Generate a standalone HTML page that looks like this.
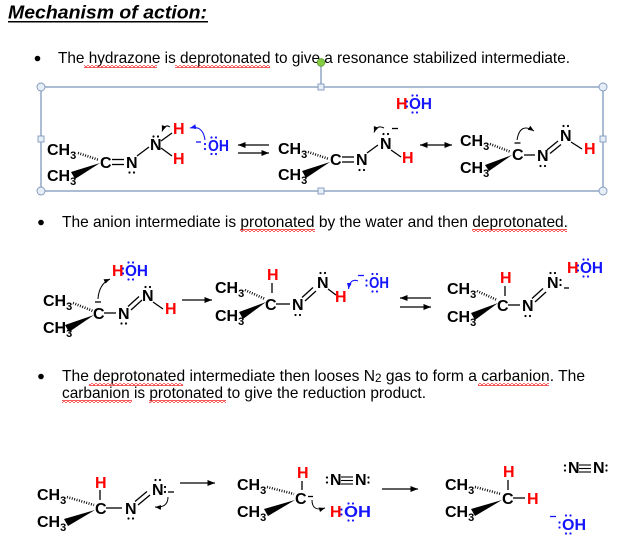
<!DOCTYPE html>
<html><head><meta charset="utf-8"><style>
html,body{margin:0;padding:0;background:#fff;}
svg{display:block;}
.t{font-family:"Liberation Sans",Arial,sans-serif;font-size:16px;fill:#000;}
.c{font-family:"Liberation Sans",Arial,sans-serif;font-size:16px;font-weight:bold;fill:#000;}
.r{fill:#f00;}
.b{fill:#1414ff;}
</style></head><body>
<svg width="622" height="543" viewBox="0 0 622 543" xmlns="http://www.w3.org/2000/svg">
<defs>
<pattern id="sq" x="0" y="0" width="4" height="3" patternUnits="userSpaceOnUse"><path d="M0,2.5 L2,0.5 L4,2.5" stroke="#e00" stroke-width="0.9" fill="none"/></pattern>
<marker id="ar" viewBox="0 0 10 8" refX="10" refY="4" markerWidth="8" markerHeight="6" markerUnits="userSpaceOnUse" orient="auto-start-reverse"><path d="M0,0 L10,4 L0,8 z" fill="#000"/></marker>
<marker id="ac" viewBox="0 0 10 8" refX="10" refY="4" markerWidth="6" markerHeight="5" markerUnits="userSpaceOnUse" orient="auto"><path d="M0,0 L10,4 L0,8 z" fill="#000"/></marker>
<marker id="acb" viewBox="0 0 10 8" refX="10" refY="4" markerWidth="6" markerHeight="5" markerUnits="userSpaceOnUse" orient="auto"><path d="M0,0 L10,4 L0,8 z" fill="#1414ff"/></marker>
</defs>

<!-- Title -->
<text x="8" y="18.5" font-family="Liberation Sans, Arial, sans-serif" font-weight="bold" font-style="italic" font-size="18" textLength="199" lengthAdjust="spacingAndGlyphs">Mechanism of action:</text>
<rect x="8" y="21" width="200" height="1.5" fill="#000"/>

<!-- Bullet 1 -->
<circle cx="37.5" cy="58.5" r="2.8" fill="#000"/>
<text class="t" x="58" y="63" textLength="512" lengthAdjust="spacingAndGlyphs">The hydrazone is deprotonated to give a resonance stabilized intermediate.</text>
<rect x="84" y="65" width="73" height="3" fill="url(#sq)"/>
<rect x="175" y="65" width="95" height="3" fill="url(#sq)"/>

<!-- Selection box -->
<rect x="41" y="87" width="562" height="104" fill="none" stroke="#5878a4" stroke-width="1"/>
<line x1="321" y1="66" x2="321" y2="84" stroke="#5878a4" stroke-width="1"/>
<circle cx="321" cy="62.5" r="3.8" fill="#86cc44" stroke="#5c9a2c" stroke-width="0.8"/>
<g fill="#e6eef8" stroke="#7f98ba" stroke-width="0.9">
<circle cx="41" cy="87" r="4"/>
<circle cx="603" cy="87" r="4"/>
<circle cx="41" cy="191" r="4"/>
<circle cx="603" cy="191" r="4"/>
<rect x="318" y="84" width="6" height="6"/>
<rect x="318" y="188" width="6" height="6"/>
<rect x="38" y="136" width="6" height="6"/>
<rect x="600" y="136" width="6" height="6"/>
</g>

<!-- ===== Row 1 ===== -->
<g stroke="#000" stroke-width="1.3" fill="none">
<!-- Mol A -->
<line x1="78" y1="153" x2="99" y2="160" stroke-width="2.6" stroke-dasharray="0.9 1.6"/>
<line x1="112" y1="159.5" x2="124" y2="159.5"/>
<line x1="112" y1="164.5" x2="124" y2="164.5"/>
<line x1="137" y1="156" x2="149" y2="147"/>
<line x1="161" y1="141" x2="172" y2="133"/>
<line x1="161" y1="148" x2="172" y2="156"/>
<path d="M170,127 Q165,123.5 162,131.5" stroke-width="1" marker-end="url(#ac)"/>
<!-- eq arrows -->
<line x1="269" y1="145" x2="238" y2="145" stroke-width="1.2" marker-end="url(#ar)"/>
<line x1="238" y1="153" x2="269" y2="153" stroke-width="1.2" marker-end="url(#ar)"/>
<!-- Mol B -->
<line x1="308" y1="152" x2="329" y2="159" stroke-width="2.6" stroke-dasharray="0.9 1.6"/>
<line x1="342" y1="157" x2="354" y2="157"/>
<line x1="342" y1="162" x2="354" y2="162"/>
<line x1="367" y1="153" x2="378" y2="145"/>
<line x1="391" y1="150" x2="401" y2="157"/>
<line x1="392" y1="128.5" x2="398" y2="128.5"/>
<path d="M384,128 Q377,124.5 374,132.5" stroke-width="1" marker-end="url(#ac)"/>
<!-- resonance arrow -->
<line x1="420" y1="145" x2="452" y2="145" stroke-width="1.2" marker-start="url(#ar)" marker-end="url(#ar)"/>
<!-- Mol C -->
<line x1="490" y1="144" x2="511" y2="152" stroke-width="2.6" stroke-dasharray="0.9 1.6"/>
<line x1="514.5" y1="143" x2="520.5" y2="143"/>
<path d="M517,140 Q520,122 534,131" stroke-width="1" marker-end="url(#ac)"/>
<line x1="524" y1="155" x2="535" y2="155"/>
<line x1="547" y1="150" x2="558" y2="141"/>
<line x1="550" y1="153.5" x2="561" y2="144.5"/>
<line x1="571" y1="142" x2="582" y2="149"/>
</g>
<g fill="#000">
<polygon points="100,163 71,172 75,179"/>
<polygon points="330,162 302,171 306,178"/>
<polygon points="512,155 485,165 489,171"/>
</g>
<!-- Mol A text -->
<text class="c" x="47" y="155">CH<tspan dy="4" font-size="11">3</tspan></text>
<text class="c" x="47" y="181">CH<tspan dy="4" font-size="11">3</tspan></text>
<text class="c" x="100" y="168">C</text>
<text class="c" x="126" y="168">N</text>
<text class="c" x="150" y="150">N</text>
<text class="c r" x="173" y="134">H</text>
<text class="c r" x="173" y="164">H</text>
<g fill="#000"><circle cx="129.5" cy="172.5" r="1.1"/><circle cx="134" cy="172.5" r="1.1"/><circle cx="153.5" cy="136.5" r="1.1"/><circle cx="158" cy="136.5" r="1.1"/></g>
<path d="M205,140 Q203,125 190,128" stroke="#1414ff" stroke-width="1.1" fill="none" marker-end="url(#acb)"/>
<line x1="196" y1="142" x2="201" y2="142" stroke="#1414ff" stroke-width="1.3"/>
<text class="c b" x="208" y="151" textLength="21" lengthAdjust="spacingAndGlyphs">OH</text>
<g fill="#1414ff"><circle cx="205" cy="144" r="1.1"/><circle cx="205" cy="149" r="1.1"/><circle cx="211.5" cy="137.5" r="1.1"/><circle cx="216" cy="137.5" r="1.1"/><circle cx="211.5" cy="154" r="1.1"/><circle cx="216" cy="154" r="1.1"/></g>

<!-- Mol B text -->
<text class="c" x="278" y="154">CH<tspan dy="4" font-size="11">3</tspan></text>
<text class="c" x="278" y="180">CH<tspan dy="4" font-size="11">3</tspan></text>
<text class="c" x="330" y="165">C</text>
<text class="c" x="356" y="165">N</text>
<text class="c" x="380" y="149">N</text>
<text class="c r" x="402" y="163">H</text>
<g fill="#000"><circle cx="359.5" cy="170" r="1.1"/><circle cx="364" cy="170" r="1.1"/><circle cx="383.5" cy="134" r="1.1"/><circle cx="388" cy="134" r="1.1"/></g>
<text class="c r" x="396" y="109">H</text>
<text class="c b" x="409" y="109" textLength="23" lengthAdjust="spacingAndGlyphs">OH</text>
<g fill="#1414ff"><circle cx="407" cy="101.5" r="1.1"/><circle cx="407" cy="106.5" r="1.1"/><circle cx="412.5" cy="95.5" r="1.1"/><circle cx="417" cy="95.5" r="1.1"/><circle cx="412.5" cy="112.5" r="1.1"/><circle cx="417" cy="112.5" r="1.1"/></g>

<!-- Mol C text -->
<text class="c" x="460" y="146">CH<tspan dy="4" font-size="11">3</tspan></text>
<text class="c" x="460" y="173">CH<tspan dy="4" font-size="11">3</tspan></text>
<text class="c" x="512" y="160">C</text>
<text class="c" x="537" y="161">N</text>
<text class="c" x="560" y="141">N</text>
<text class="c r" x="584" y="154">H</text>
<g fill="#000"><circle cx="540.5" cy="166" r="1.1"/><circle cx="545" cy="166" r="1.1"/><circle cx="563.5" cy="126" r="1.1"/><circle cx="568" cy="126" r="1.1"/></g>

<!-- Bullet 2 -->
<circle cx="41" cy="222.5" r="2.8" fill="#000"/>
<text class="t" x="62" y="227" textLength="506" lengthAdjust="spacingAndGlyphs">The anion intermediate is protonated by the water and then deprotonated.</text>
<rect x="240" y="229" width="75" height="3" fill="url(#sq)"/>
<rect x="472" y="229" width="95" height="3" fill="url(#sq)"/>

<!-- ===== Row 2 ===== -->
<g stroke="#000" stroke-width="1.3" fill="none">
<!-- Mol D -->
<line x1="73" y1="303" x2="93" y2="311" stroke-width="2.6" stroke-dasharray="0.9 1.6"/>
<line x1="95" y1="302" x2="101" y2="302"/>
<path d="M98,299 Q99,284 110,279" stroke-width="1" marker-end="url(#ac)"/>
<line x1="104" y1="313" x2="116" y2="313"/>
<line x1="128" y1="306.5" x2="139" y2="296.5"/>
<line x1="131" y1="310" x2="142" y2="300"/>
<line x1="153" y1="302" x2="163" y2="309"/>
<line x1="212" y1="300" x2="182" y2="300" stroke-width="0" />
<line x1="182" y1="300" x2="212" y2="300" stroke-width="1.2" marker-end="url(#ar)"/>
<!-- Mol E -->
<line x1="245" y1="290" x2="265" y2="299" stroke-width="2.6" stroke-dasharray="0.9 1.6"/>
<line x1="272" y1="283" x2="272" y2="293"/>
<line x1="276" y1="304" x2="290" y2="304"/>
<line x1="302" y1="297.5" x2="313" y2="287.5"/>
<line x1="305" y1="301" x2="316" y2="291"/>
<line x1="328" y1="289" x2="336" y2="295"/>
<!-- eq arrows -->
<line x1="431" y1="298" x2="400" y2="298" stroke-width="1.2" marker-end="url(#ar)"/>
<line x1="400" y1="307" x2="431" y2="307" stroke-width="1.2" marker-end="url(#ar)"/>
<!-- Mol F -->
<line x1="477" y1="291" x2="497" y2="300" stroke-width="2.6" stroke-dasharray="0.9 1.6"/>
<line x1="505" y1="286" x2="505" y2="296"/>
<line x1="508" y1="305" x2="520" y2="305"/>
<line x1="532" y1="298.5" x2="543" y2="288.5"/>
<line x1="535" y1="302" x2="546" y2="292"/>
<line x1="564" y1="288" x2="569" y2="288"/>
</g>
<g fill="#000">
<polygon points="94,315 65,325 69,332"/>
<polygon points="266,302 239,312 243,319"/>
<polygon points="498,303 471,313 475,320"/>
</g>
<!-- Mol D text -->
<text class="c r" x="112" y="276">H</text>
<text class="c b" x="125" y="276" textLength="23" lengthAdjust="spacingAndGlyphs">OH</text>
<g fill="#1414ff"><circle cx="123" cy="268.5" r="1.1"/><circle cx="123" cy="273.5" r="1.1"/><circle cx="128.5" cy="262.5" r="1.1"/><circle cx="133" cy="262.5" r="1.1"/><circle cx="128.5" cy="279.5" r="1.1"/><circle cx="133" cy="279.5" r="1.1"/></g>
<text class="c" x="43" y="306">CH<tspan dy="4" font-size="11">3</tspan></text>
<text class="c" x="43" y="333">CH<tspan dy="4" font-size="11">3</tspan></text>
<text class="c" x="93" y="319">C</text>
<text class="c" x="118" y="319">N</text>
<text class="c" x="142" y="301">N</text>
<text class="c r" x="165" y="314">H</text>
<g fill="#000"><circle cx="121.5" cy="323.5" r="1.1"/><circle cx="126" cy="323.5" r="1.1"/><circle cx="145.5" cy="287" r="1.1"/><circle cx="150" cy="287" r="1.1"/></g>

<!-- Mol E text -->
<text class="c" x="215" y="293">CH<tspan dy="4" font-size="11">3</tspan></text>
<text class="c" x="215" y="321">CH<tspan dy="4" font-size="11">3</tspan></text>
<text class="c r" x="267" y="280">H</text>
<text class="c" x="265" y="310">C</text>
<text class="c" x="292" y="310">N</text>
<text class="c" x="317" y="288">N</text>
<text class="c r" x="335" y="302">H</text>
<g fill="#000"><circle cx="295.5" cy="315" r="1.1"/><circle cx="300" cy="315" r="1.1"/><circle cx="320.5" cy="273" r="1.1"/><circle cx="325" cy="273" r="1.1"/></g>
<path d="M358,281 Q350,278 348.5,289" stroke="#1414ff" stroke-width="1.1" fill="none" marker-end="url(#acb)"/>
<line x1="358" y1="275.5" x2="364" y2="275.5" stroke="#1414ff" stroke-width="1.3"/>
<text class="c b" x="369" y="288" textLength="20" lengthAdjust="spacingAndGlyphs">OH</text>
<g fill="#1414ff"><circle cx="366.5" cy="280.5" r="1.1"/><circle cx="366.5" cy="285.5" r="1.1"/><circle cx="372.5" cy="274" r="1.1"/><circle cx="377" cy="274" r="1.1"/><circle cx="372.5" cy="291.5" r="1.1"/><circle cx="377" cy="291.5" r="1.1"/></g>

<!-- Mol F text -->
<text class="c" x="447" y="294">CH<tspan dy="4" font-size="11">3</tspan></text>
<text class="c" x="447" y="322">CH<tspan dy="4" font-size="11">3</tspan></text>
<text class="c r" x="500" y="283">H</text>
<text class="c" x="497" y="311">C</text>
<text class="c" x="522" y="311">N</text>
<text class="c" x="547" y="288">N</text>
<g fill="#000"><circle cx="525.5" cy="316" r="1.1"/><circle cx="530" cy="316" r="1.1"/><circle cx="550.5" cy="273" r="1.1"/><circle cx="555" cy="273" r="1.1"/><circle cx="560.5" cy="280" r="1.1"/><circle cx="560.5" cy="285" r="1.1"/></g>
<text class="c r" x="567" y="273">H</text>
<text class="c b" x="580" y="273" textLength="23" lengthAdjust="spacingAndGlyphs">OH</text>
<g fill="#1414ff"><circle cx="578" cy="265.5" r="1.1"/><circle cx="578" cy="270.5" r="1.1"/><circle cx="583.5" cy="259.5" r="1.1"/><circle cx="588" cy="259.5" r="1.1"/><circle cx="583.5" cy="276.5" r="1.1"/><circle cx="588" cy="276.5" r="1.1"/></g>

<!-- Bullet 3 -->
<circle cx="41" cy="376.5" r="2.8" fill="#000"/>
<text class="t" x="62" y="381" textLength="523" lengthAdjust="spacingAndGlyphs">The deprotonated intermediate then looses N<tspan font-size="12" dy="1">2</tspan><tspan dy="-1"> gas to form a carbanion.  The</tspan></text>
<rect x="89" y="383" width="94" height="3" fill="url(#sq)"/>
<rect x="478" y="383" width="71" height="3" fill="url(#sq)"/>
<text class="t" x="62" y="398" textLength="364" lengthAdjust="spacingAndGlyphs">carbanion is protonated to give the reduction product.</text>
<rect x="62" y="400" width="70" height="3" fill="url(#sq)"/>
<rect x="149" y="400" width="77" height="3" fill="url(#sq)"/>

<!-- ===== Row 3 ===== -->
<g stroke="#000" stroke-width="1.3" fill="none">
<!-- Mol G -->
<line x1="67" y1="497" x2="94" y2="505" stroke-width="2.6" stroke-dasharray="0.9 1.6"/>
<line x1="100" y1="490" x2="100" y2="500"/>
<line x1="106" y1="508" x2="122" y2="508"/>
<line x1="135" y1="501.5" x2="147" y2="491.5"/>
<line x1="138" y1="505" x2="150" y2="495"/>
<line x1="168" y1="492" x2="174" y2="492"/>
<path d="M168,497 Q168,508 155,507" stroke-width="1" marker-end="url(#ac)"/>
<line x1="180" y1="483" x2="215" y2="483" stroke-width="1.2" marker-end="url(#ar)"/>
<!-- Mol H -->
<line x1="267" y1="487" x2="294" y2="494" stroke-width="2.6" stroke-dasharray="0.9 1.6"/>
<line x1="302" y1="481" x2="302" y2="490"/>
<line x1="308" y1="496.5" x2="313" y2="496.5"/>
<path d="M312,500 Q312,512 325,508" stroke-width="1" marker-end="url(#ac)"/>
<line x1="341" y1="477" x2="353" y2="477" stroke-width="1.1"/>
<line x1="341" y1="480.5" x2="353" y2="480.5" stroke-width="1.1"/>
<line x1="341" y1="484" x2="353" y2="484" stroke-width="1.1"/>
<line x1="382" y1="489" x2="418" y2="489" stroke-width="1.2" marker-end="url(#ar)"/>
<!-- Mol I -->
<line x1="475" y1="487" x2="501" y2="494" stroke-width="2.6" stroke-dasharray="0.9 1.6"/>
<line x1="508" y1="480" x2="508" y2="490"/>
<line x1="513" y1="498" x2="525" y2="498"/>
<line x1="579" y1="465" x2="591" y2="465" stroke-width="1.1"/>
<line x1="579" y1="468.5" x2="591" y2="468.5" stroke-width="1.1"/>
<line x1="579" y1="472" x2="591" y2="472" stroke-width="1.1"/>
</g>
<g fill="#000">
<polygon points="95,510 64,519 68,526"/>
<polygon points="295,500 264,509 268,516"/>
<polygon points="502,500 471,509 475,516"/>
</g>
<!-- Mol G text -->
<text class="c" x="37" y="500">CH<tspan dy="4" font-size="11">3</tspan></text>
<text class="c" x="37" y="527">CH<tspan dy="4" font-size="11">3</tspan></text>
<text class="c r" x="95" y="488">H</text>
<text class="c" x="95" y="514">C</text>
<text class="c" x="125" y="514">N</text>
<text class="c" x="152" y="495">N</text>
<g fill="#000"><circle cx="128.5" cy="518.5" r="1.1"/><circle cx="133" cy="518.5" r="1.1"/><circle cx="155.5" cy="480" r="1.1"/><circle cx="160" cy="480" r="1.1"/><circle cx="165" cy="487" r="1.1"/><circle cx="165" cy="492" r="1.1"/></g>

<!-- Mol H text -->
<text class="c" x="237" y="490">CH<tspan dy="4" font-size="11">3</tspan></text>
<text class="c" x="237" y="517">CH<tspan dy="4" font-size="11">3</tspan></text>
<text class="c r" x="297" y="478">H</text>
<text class="c" x="295" y="504">C</text>
<text class="c" x="330" y="485" font-size="14">N</text>
<text class="c" x="355" y="485" font-size="14">N</text>
<g fill="#000"><circle cx="327" cy="477.5" r="1.1"/><circle cx="327" cy="482.5" r="1.1"/><circle cx="368.5" cy="477.5" r="1.1"/><circle cx="368.5" cy="482.5" r="1.1"/></g>
<text class="c r" x="330" y="517">H</text>
<text class="c b" x="344" y="517" textLength="27" lengthAdjust="spacingAndGlyphs">OH</text>
<g fill="#1414ff"><circle cx="341.5" cy="509.5" r="1.1"/><circle cx="341.5" cy="514.5" r="1.1"/><circle cx="348.5" cy="503.5" r="1.1"/><circle cx="353" cy="503.5" r="1.1"/><circle cx="348.5" cy="520.5" r="1.1"/><circle cx="353" cy="520.5" r="1.1"/></g>

<!-- Mol I text -->
<text class="c" x="445" y="490">CH<tspan dy="4" font-size="11">3</tspan></text>
<text class="c" x="445" y="517">CH<tspan dy="4" font-size="11">3</tspan></text>
<text class="c r" x="503" y="477">H</text>
<text class="c" x="502" y="504">C</text>
<text class="c r" x="527" y="504">H</text>
<text class="c" x="568" y="473" font-size="14">N</text>
<text class="c" x="593" y="473" font-size="14">N</text>
<g fill="#000"><circle cx="565" cy="465.5" r="1.1"/><circle cx="565" cy="470.5" r="1.1"/><circle cx="606.5" cy="465.5" r="1.1"/><circle cx="606.5" cy="470.5" r="1.1"/></g>
<line x1="550" y1="516.5" x2="556" y2="516.5" stroke="#1414ff" stroke-width="1.3"/>
<text class="c b" x="562" y="530" textLength="24" lengthAdjust="spacingAndGlyphs">OH</text>
<g fill="#1414ff"><circle cx="559.5" cy="522.5" r="1.1"/><circle cx="559.5" cy="527.5" r="1.1"/><circle cx="566" cy="515.5" r="1.1"/><circle cx="570.5" cy="515.5" r="1.1"/><circle cx="566" cy="533.5" r="1.1"/><circle cx="570.5" cy="533.5" r="1.1"/></g>
</svg>
</body></html>
